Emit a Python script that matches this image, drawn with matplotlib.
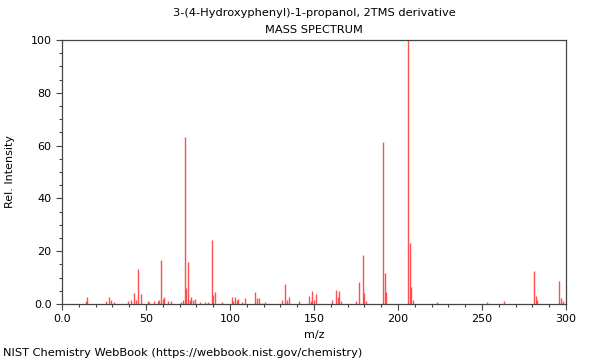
import numpy as np
import matplotlib.pyplot as plt
from matplotlib.ticker import MultipleLocator, FixedLocator, FixedFormatter

# peak list (m/z, relative intensity)
mz = [14, 15, 26, 28, 29, 31, 39, 41, 43, 44, 45, 47, 51, 52, 55, 57, 58, 59,
      60, 61, 63, 65, 71, 72, 73, 74, 75, 76, 77, 78, 79, 82, 85, 87, 89, 90,
      91, 95, 101, 102, 103, 104, 105, 107, 109, 115, 116, 117, 119, 121,
      131, 133, 134, 135, 141, 147, 148, 149, 150, 151, 161, 163, 164, 165,
      166, 175, 177, 179, 180, 181, 191, 192, 193, 206, 207, 208, 209, 223,
      253, 263, 281, 282, 283, 296, 297, 298]
intensity = [1.0, 2.5, 1.0, 2.8, 1.5, 0.6, 1.0, 1.5, 4.0, 1.5, 13.4, 3.6, 1.0,
             0.8, 1.0, 1.0, 1.6, 16.5, 1.8, 2.8, 1.0, 1.0, 0.7, 1.5, 63.4, 5.9,
             15.9, 1.5, 2.5, 1.4, 2.0, 0.8, 0.8, 0.8, 24.2, 3.3, 4.4, 0.7, 2.7,
             1.0, 2.7, 1.5, 2.0, 0.6, 2.1, 4.4, 2.1, 2.2, 0.5, 0.7, 1.5, 7.4,
             1.5, 2.8, 1.3, 3.2, 1.3, 5.0, 1.5, 3.9, 1.6, 5.4, 2.5, 5.0, 1.0,
             1.2, 8.3, 18.6, 4.0, 1.3, 61.5, 11.9, 4.5, 100.0, 23.0, 6.3, 1.5,
             0.7, 0.8, 1.0, 12.4, 2.9, 1.5, 8.6, 2.1, 1.0]

title = "3-(4-Hydroxyphenyl)-1-propanol, 2TMS derivative"

fig = plt.figure(figsize=(6, 3.6), dpi=100)
ax = fig.add_axes([0.1033, 0.1556, 0.8400, 0.7333])

ax.vlines(mz, 0, intensity, colors="#ff3333", linewidth=1.0, alpha=0.85)

ax.set_xlim(0, 300)
ax.set_ylim(0, 100)
ax.xaxis.set_major_locator(FixedLocator([0, 50, 100, 150, 200, 250, 300]))
ax.xaxis.set_major_formatter(
    FixedFormatter(["0.0", "50", "100", "150", "200", "250", "300"]))
ax.xaxis.set_minor_locator(MultipleLocator(10))
ax.yaxis.set_major_locator(FixedLocator([0, 20, 40, 60, 80, 100]))
ax.yaxis.set_major_formatter(
    FixedFormatter(["0.0", "20", "40", "60", "80", "100"]))
ax.yaxis.set_minor_locator(MultipleLocator(5))
ax.tick_params(labelsize=8, length=4, color="#444444", width=0.8)
ax.tick_params(which="minor", length=2.5, color="#444444", width=0.8)
for s in ax.spines.values():
    s.set_color("#444444")
    s.set_linewidth(0.9)

ax.set_xlabel("m/z", fontsize=8)
ax.set_ylabel("Rel. Intensity", fontsize=8, labelpad=11)
cx = 0.1033 + 0.84 / 2
fig.text(cx, 0.964, title, ha="center", va="center", fontsize=8.2)
fig.text(cx, 0.917, "MASS SPECTRUM", ha="center", va="center", fontsize=8.2)
fig.text(0.005, 0.02, "NIST Chemistry WebBook (https://webbook.nist.gov/chemistry)",
         ha="left", va="center", fontsize=8.2)

fig.savefig("out.png", dpi=100)
